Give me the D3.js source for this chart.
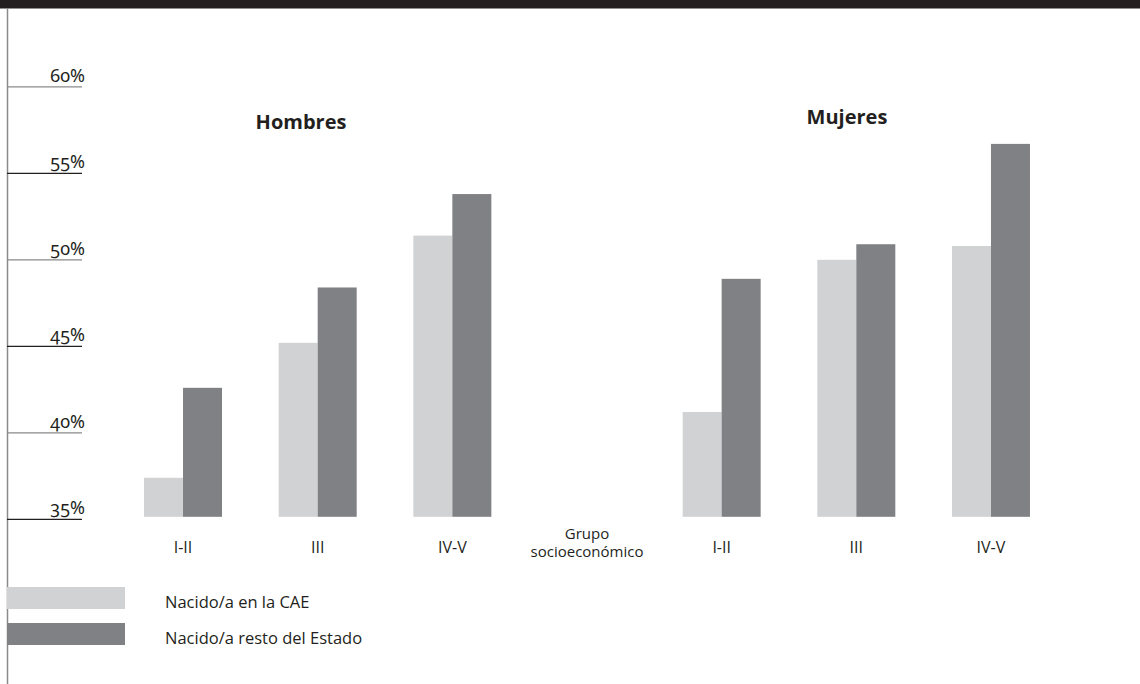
<!DOCTYPE html>
<html>
<head>
<meta charset="utf-8">
<script src="https://cdn.jsdelivr.net/npm/d3@7"></script>
<style>
  body { margin: 0; background: #fff; }
  svg { display: block; font-family: "Open Sans", "Noto Sans", sans-serif; }
</style>
</head>
<body>
<div id="chart"></div>
<script>
'use strict';

// chart data
var groups = ["I-II", "III", "IV-V"];
var sexes = ["Hombres", "Mujeres"];
var series = ["Nacido/a en la CAE", "Nacido/a resto del Estado"];
var hombresCAE = [37.4, 45.2, 51.4];
var hombresResto = [42.6, 48.4, 53.8];
var mujeresCAE = [41.2, 50.0, 50.8];
var mujeresResto = [48.9, 50.9, 56.7];
var yTicks = [35, 40, 45, 50, 55, 60];
var axisTitle = ["Grupo", "socioeconómico"];

var width = 1140;
var height = 684;
var ink = "#231f20";
var colors = ["#d1d2d4", "#808184"];

var svg = d3.select('#chart')
    .append('svg')
    .attr('width', width)
    .attr('height', height);

// top black band + left rule
svg.append('rect')
    .attr('x', 0).attr('y', 0)
    .attr('width', width).attr('height', 8.5)
    .attr('fill', ink);

svg.append('line')
    .attr('x1', 7.5).attr('x2', 7.5)
    .attr('y1', 8).attr('y2', height)
    .attr('stroke', '#8a8a8c').attr('stroke-width', 1.5);

var y = d3.scaleLinear().domain([35, 60]).range([519.3, 86.8]);

// slots: 3 groups for Hombres, axis title, 3 groups for Mujeres
var slots = groups.map(function(g) { return "H " + g; })
    .concat(["title"])
    .concat(groups.map(function(g) { return "M " + g; }));

var x = d3.scaleBand().domain(slots).range([115.7, 1058.3]).paddingInner(0).paddingOuter(0);
var inner = d3.scaleBand().domain([0, 1]).range([0, 78]);

// y ticks
var tick = svg.append('g').selectAll('g')
    .data(yTicks)
    .enter()
    .append('g')
    .attr('transform', function(d) { return 'translate(0,' + y(d) + ')'; });

tick.append('line')
    .attr('x1', 7).attr('x2', 82)
    .attr('stroke', function(d, i) { return i % 2 == 0 ? ink : '#8a8a8c'; })
    .attr('stroke-width', 1.3);

tick.append('text')
    .attr('x', 85).attr('y', -5)
    .attr('text-anchor', 'end')
    .style('font-family', '"Noto Sans", sans-serif')
    .style('font-size', '18px')
    .style('font-variant-numeric', 'oldstyle-nums')
    .attr('fill', ink)
    .text(function(d) { return d + '%'; });

// bars
var data = [];
groups.forEach(function(g, i) {
    data.push({ slot: "H " + g, s: 0, v: hombresCAE[i] });
    data.push({ slot: "H " + g, s: 1, v: hombresResto[i] });
    data.push({ slot: "M " + g, s: 0, v: mujeresCAE[i] });
    data.push({ slot: "M " + g, s: 1, v: mujeresResto[i] });
});

var base = y(35) - 2.5;

svg.append('g').selectAll('rect')
    .data(data)
    .enter()
    .append('rect')
    .attr('x', function(d) { return x(d.slot) + (x.bandwidth() - 78) / 2 + inner(d.s); })
    .attr('width', inner.bandwidth())
    .attr('y', function(d) { return y(d.v); })
    .attr('height', function(d) { return base - y(d.v); })
    .attr('fill', function(d) { return colors[d.s]; });

// category labels
svg.append('g').selectAll('text')
    .data(slots.filter(function(s) { return s != "title"; }))
    .enter()
    .append('text')
    .attr('x', function(d) { return x(d) + x.bandwidth() / 2; })
    .attr('y', 553)
    .attr('text-anchor', 'middle')
    .style('font-size', '16px')
    .attr('fill', ink)
    .text(function(d) { return d.slice(2); });

svg.append('g').selectAll('text')
    .data(axisTitle)
    .enter()
    .append('text')
    .attr('x', x("title") + x.bandwidth() / 2)
    .attr('y', function(d, i) { return 539 + i * 17.5; })
    .attr('text-anchor', 'middle')
    .style('font-size', '15px')
    .attr('fill', ink)
    .text(function(d) { return d; });

// panel titles
svg.append('text')
    .attr('x', 301).attr('y', 128.5)
    .attr('text-anchor', 'middle')
    .style('font-size', '20px').style('font-weight', 'bold')
    .attr('fill', ink)
    .text(sexes[0]);

svg.append('text')
    .attr('x', 847).attr('y', 124)
    .attr('text-anchor', 'middle')
    .style('font-size', '20px').style('font-weight', 'bold')
    .attr('fill', ink)
    .text(sexes[1]);

// legend
var legend = svg.append('g').selectAll('g')
    .data(series)
    .enter()
    .append('g')
    .attr('transform', function(d, i) { return 'translate(0,' + (587 + i * 36) + ')'; });

legend.append('rect')
    .attr('x', 7).attr('y', 0)
    .attr('width', 118).attr('height', 22)
    .attr('fill', function(d, i) { return colors[i]; });

legend.append('text')
    .attr('x', 165).attr('y', 21)
    .style('font-size', '16.5px')
    .attr('fill', ink)
    .text(function(d) { return d; });
</script>
</body>
</html>
